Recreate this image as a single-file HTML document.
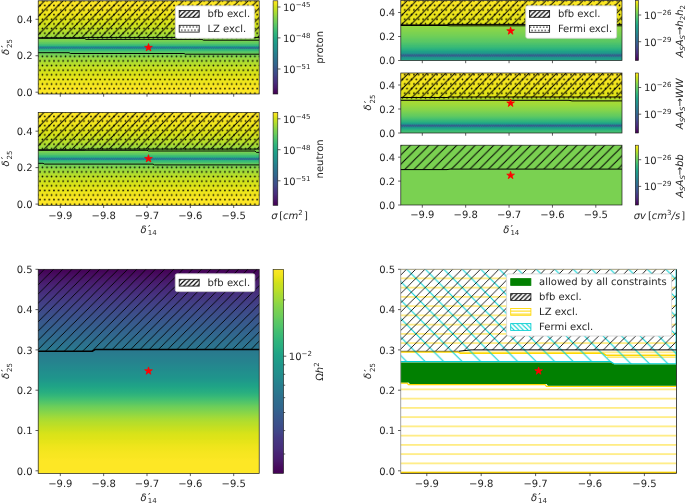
<!DOCTYPE html>
<html lang="en">
<head>
<meta charset="utf-8">
<title>Parameter scan: direct detection, indirect detection, relic density and combined constraints</title>
<style>
html,body{margin:0;padding:0;background:#ffffff;}
body{width:685px;height:503px;overflow:hidden;}
svg{display:block;font-family:'DejaVu Sans', 'Liberation Sans', sans-serif;will-change:transform;opacity:0.999;text-rendering:geometricPrecision;}
</style>
</head>
<body>
<svg width="685" height="503" viewBox="0 0 685 503">
<defs>
<pattern id="Lbfb" patternUnits="userSpaceOnUse" x="1.9" y="0" width="4.6" height="4.6"><path d="M-1 5.6 L5.6 -1 M-1 1 L1 -1 M3.6 5.6 L5.6 3.6" stroke="#000" stroke-width="1.15" fill="none"/></pattern>
<pattern id="Ldots" patternUnits="userSpaceOnUse" x="0.95" y="3.25" width="3.3" height="6.6"><circle cx="1.65" cy="1.65" r="0.7"/><circle cx="3.3" cy="4.95" r="0.7"/><circle cx="0" cy="4.95" r="0.7"/></pattern>
<pattern id="Llz" patternUnits="userSpaceOnUse" x="0" y="1.1" width="20" height="3"><path d="M-1 1.5 H21" stroke="#ffd700" stroke-width="1"/></pattern>
<pattern id="Lfermi" patternUnits="userSpaceOnUse" x="1.5" y="0" width="4.6" height="4.6"><path d="M-1 -1 L5.6 5.6 M3.6 -1 L5.6 1 M-1 3.6 L1 5.6" stroke="#00ced1" stroke-width="1.1" fill="none"/></pattern>
<pattern id="hbfbA" patternUnits="userSpaceOnUse" x="8.4" y="0" width="9.25" height="9.25"><path d="M-1 10.25 L10.25 -1 M-1 1 L1 -1 M8.25 10.25 L10.25 8.25" stroke="#000" stroke-width="1" fill="none"/></pattern>
<pattern id="hdotA" patternUnits="userSpaceOnUse" x="40.09" y="7.74" width="4.62" height="9.25"><circle cx="2.31" cy="2.31" r="0.82"/><circle cx="4.62" cy="6.94" r="0.82"/><circle cx="0" cy="6.94" r="0.82"/></pattern>
<linearGradient id="cb" x1="0" y1="0" x2="0" y2="1"><stop offset="0" stop-color="#fde725"/><stop offset="0.03" stop-color="#efe51c"/><stop offset="0.05" stop-color="#dfe318"/><stop offset="0.07" stop-color="#cde11d"/><stop offset="0.1" stop-color="#bddf26"/><stop offset="0.12" stop-color="#addc30"/><stop offset="0.15" stop-color="#9bd93c"/><stop offset="0.17" stop-color="#8bd646"/><stop offset="0.2" stop-color="#7ad151"/><stop offset="0.23" stop-color="#6ccd5a"/><stop offset="0.25" stop-color="#5ec962"/><stop offset="0.28" stop-color="#50c46a"/><stop offset="0.3" stop-color="#44bf70"/><stop offset="0.33" stop-color="#38b977"/><stop offset="0.35" stop-color="#2fb47c"/><stop offset="0.38" stop-color="#28ae80"/><stop offset="0.4" stop-color="#22a884"/><stop offset="0.42" stop-color="#1fa287"/><stop offset="0.45" stop-color="#1e9c89"/><stop offset="0.47" stop-color="#1f968b"/><stop offset="0.5" stop-color="#21918c"/><stop offset="0.53" stop-color="#238a8d"/><stop offset="0.55" stop-color="#25848e"/><stop offset="0.57" stop-color="#277e8e"/><stop offset="0.6" stop-color="#2a788e"/><stop offset="0.62" stop-color="#2c728e"/><stop offset="0.65" stop-color="#2f6c8e"/><stop offset="0.68" stop-color="#31668e"/><stop offset="0.7" stop-color="#355f8d"/><stop offset="0.72" stop-color="#38598c"/><stop offset="0.75" stop-color="#3b528b"/><stop offset="0.78" stop-color="#3e4a89"/><stop offset="0.8" stop-color="#414487"/><stop offset="0.82" stop-color="#443b84"/><stop offset="0.85" stop-color="#463480"/><stop offset="0.88" stop-color="#472d7b"/><stop offset="0.9" stop-color="#482475"/><stop offset="0.93" stop-color="#481c6e"/><stop offset="0.95" stop-color="#471365"/><stop offset="0.97" stop-color="#460a5d"/><stop offset="1" stop-color="#440154"/></linearGradient>
<linearGradient id="gP1" gradientUnits="userSpaceOnUse" x1="0" y1="0.8" x2="0" y2="94"><stop offset="0" stop-color="#fde725"/><stop offset="0.01" stop-color="#fde725"/><stop offset="0.01" stop-color="#fde725"/><stop offset="0.02" stop-color="#fde725"/><stop offset="0.03" stop-color="#fde725"/><stop offset="0.04" stop-color="#fde725"/><stop offset="0.04" stop-color="#fde725"/><stop offset="0.05" stop-color="#fde725"/><stop offset="0.06" stop-color="#fde725"/><stop offset="0.06" stop-color="#fbe723"/><stop offset="0.07" stop-color="#fbe723"/><stop offset="0.08" stop-color="#f8e621"/><stop offset="0.09" stop-color="#f8e621"/><stop offset="0.09" stop-color="#f6e620"/><stop offset="0.1" stop-color="#f6e620"/><stop offset="0.11" stop-color="#f4e61e"/><stop offset="0.11" stop-color="#f4e61e"/><stop offset="0.12" stop-color="#f1e51d"/><stop offset="0.13" stop-color="#f1e51d"/><stop offset="0.14" stop-color="#efe51c"/><stop offset="0.14" stop-color="#ece51b"/><stop offset="0.15" stop-color="#ece51b"/><stop offset="0.16" stop-color="#eae51a"/><stop offset="0.16" stop-color="#eae51a"/><stop offset="0.17" stop-color="#e7e419"/><stop offset="0.18" stop-color="#e5e419"/><stop offset="0.19" stop-color="#e5e419"/><stop offset="0.19" stop-color="#e2e418"/><stop offset="0.2" stop-color="#dfe318"/><stop offset="0.21" stop-color="#dfe318"/><stop offset="0.21" stop-color="#dde318"/><stop offset="0.22" stop-color="#dae319"/><stop offset="0.23" stop-color="#d8e219"/><stop offset="0.24" stop-color="#d8e219"/><stop offset="0.24" stop-color="#d5e21a"/><stop offset="0.25" stop-color="#d2e21b"/><stop offset="0.26" stop-color="#d0e11c"/><stop offset="0.26" stop-color="#cde11d"/><stop offset="0.27" stop-color="#cde11d"/><stop offset="0.28" stop-color="#cae11f"/><stop offset="0.29" stop-color="#c8e020"/><stop offset="0.29" stop-color="#c5e021"/><stop offset="0.3" stop-color="#c2df23"/><stop offset="0.31" stop-color="#c0df25"/><stop offset="0.31" stop-color="#bddf26"/><stop offset="0.32" stop-color="#bade28"/><stop offset="0.33" stop-color="#b5de2b"/><stop offset="0.34" stop-color="#b2dd2d"/><stop offset="0.34" stop-color="#b0dd2f"/><stop offset="0.35" stop-color="#addc30"/><stop offset="0.36" stop-color="#a8db34"/><stop offset="0.36" stop-color="#a5db36"/><stop offset="0.37" stop-color="#a0da39"/><stop offset="0.38" stop-color="#9dd93b"/><stop offset="0.39" stop-color="#98d83e"/><stop offset="0.39" stop-color="#93d741"/><stop offset="0.4" stop-color="#8ed645"/><stop offset="0.41" stop-color="#89d548"/><stop offset="0.41" stop-color="#84d44b"/><stop offset="0.42" stop-color="#7cd250"/><stop offset="0.43" stop-color="#77d153"/><stop offset="0.44" stop-color="#70cf57"/><stop offset="0.44" stop-color="#69cd5b"/><stop offset="0.45" stop-color="#60ca60"/><stop offset="0.46" stop-color="#58c765"/><stop offset="0.46" stop-color="#4ec36b"/><stop offset="0.47" stop-color="#44bf70"/><stop offset="0.48" stop-color="#37b878"/><stop offset="0.49" stop-color="#2ab07f"/><stop offset="0.49" stop-color="#20a386"/><stop offset="0.5" stop-color="#1f958b"/><stop offset="0.51" stop-color="#1f958b"/><stop offset="0.51" stop-color="#1fa088"/><stop offset="0.52" stop-color="#28ae80"/><stop offset="0.53" stop-color="#35b779"/><stop offset="0.54" stop-color="#40bd72"/><stop offset="0.54" stop-color="#4cc26c"/><stop offset="0.55" stop-color="#56c667"/><stop offset="0.56" stop-color="#5ec962"/><stop offset="0.56" stop-color="#67cc5c"/><stop offset="0.57" stop-color="#6ece58"/><stop offset="0.58" stop-color="#75d054"/><stop offset="0.59" stop-color="#7cd250"/><stop offset="0.59" stop-color="#81d34d"/><stop offset="0.6" stop-color="#89d548"/><stop offset="0.61" stop-color="#8ed645"/><stop offset="0.61" stop-color="#93d741"/><stop offset="0.62" stop-color="#98d83e"/><stop offset="0.63" stop-color="#9bd93c"/><stop offset="0.64" stop-color="#a0da39"/><stop offset="0.64" stop-color="#a2da37"/><stop offset="0.65" stop-color="#a8db34"/><stop offset="0.66" stop-color="#aadc32"/><stop offset="0.66" stop-color="#b0dd2f"/><stop offset="0.67" stop-color="#b2dd2d"/><stop offset="0.68" stop-color="#b5de2b"/><stop offset="0.69" stop-color="#b8de29"/><stop offset="0.69" stop-color="#bade28"/><stop offset="0.7" stop-color="#c0df25"/><stop offset="0.71" stop-color="#c2df23"/><stop offset="0.71" stop-color="#c5e021"/><stop offset="0.72" stop-color="#c8e020"/><stop offset="0.73" stop-color="#c8e020"/><stop offset="0.74" stop-color="#cae11f"/><stop offset="0.74" stop-color="#cde11d"/><stop offset="0.75" stop-color="#d0e11c"/><stop offset="0.76" stop-color="#d2e21b"/><stop offset="0.76" stop-color="#d5e21a"/><stop offset="0.77" stop-color="#d8e219"/><stop offset="0.78" stop-color="#d8e219"/><stop offset="0.79" stop-color="#dae319"/><stop offset="0.79" stop-color="#dde318"/><stop offset="0.8" stop-color="#dfe318"/><stop offset="0.81" stop-color="#dfe318"/><stop offset="0.81" stop-color="#e2e418"/><stop offset="0.82" stop-color="#e5e419"/><stop offset="0.83" stop-color="#e5e419"/><stop offset="0.84" stop-color="#e7e419"/><stop offset="0.84" stop-color="#e7e419"/><stop offset="0.85" stop-color="#eae51a"/><stop offset="0.86" stop-color="#ece51b"/><stop offset="0.86" stop-color="#ece51b"/><stop offset="0.87" stop-color="#efe51c"/><stop offset="0.88" stop-color="#efe51c"/><stop offset="0.89" stop-color="#f1e51d"/><stop offset="0.89" stop-color="#f1e51d"/><stop offset="0.9" stop-color="#f4e61e"/><stop offset="0.91" stop-color="#f6e620"/><stop offset="0.91" stop-color="#f6e620"/><stop offset="0.92" stop-color="#f8e621"/><stop offset="0.93" stop-color="#f8e621"/><stop offset="0.94" stop-color="#fbe723"/><stop offset="0.94" stop-color="#fbe723"/><stop offset="0.95" stop-color="#fbe723"/><stop offset="0.96" stop-color="#fde725"/><stop offset="0.96" stop-color="#fde725"/><stop offset="0.97" stop-color="#fde725"/><stop offset="0.98" stop-color="#fde725"/><stop offset="0.99" stop-color="#fde725"/><stop offset="0.99" stop-color="#fde725"/><stop offset="1" stop-color="#fde725"/></linearGradient>
<linearGradient id="gP2" gradientUnits="userSpaceOnUse" x1="0" y1="112.4" x2="0" y2="205.3"><stop offset="0" stop-color="#fde725"/><stop offset="0.01" stop-color="#fde725"/><stop offset="0.01" stop-color="#fde725"/><stop offset="0.02" stop-color="#fde725"/><stop offset="0.03" stop-color="#fde725"/><stop offset="0.04" stop-color="#fde725"/><stop offset="0.04" stop-color="#fde725"/><stop offset="0.05" stop-color="#fde725"/><stop offset="0.06" stop-color="#fbe723"/><stop offset="0.06" stop-color="#fbe723"/><stop offset="0.07" stop-color="#f8e621"/><stop offset="0.08" stop-color="#f8e621"/><stop offset="0.09" stop-color="#f6e620"/><stop offset="0.09" stop-color="#f6e620"/><stop offset="0.1" stop-color="#f4e61e"/><stop offset="0.11" stop-color="#f4e61e"/><stop offset="0.11" stop-color="#f1e51d"/><stop offset="0.12" stop-color="#f1e51d"/><stop offset="0.13" stop-color="#efe51c"/><stop offset="0.14" stop-color="#ece51b"/><stop offset="0.14" stop-color="#ece51b"/><stop offset="0.15" stop-color="#eae51a"/><stop offset="0.16" stop-color="#eae51a"/><stop offset="0.16" stop-color="#e7e419"/><stop offset="0.17" stop-color="#e5e419"/><stop offset="0.18" stop-color="#e5e419"/><stop offset="0.19" stop-color="#e2e418"/><stop offset="0.19" stop-color="#dfe318"/><stop offset="0.2" stop-color="#dfe318"/><stop offset="0.21" stop-color="#dde318"/><stop offset="0.21" stop-color="#dae319"/><stop offset="0.22" stop-color="#dae319"/><stop offset="0.23" stop-color="#d8e219"/><stop offset="0.24" stop-color="#d5e21a"/><stop offset="0.24" stop-color="#d2e21b"/><stop offset="0.25" stop-color="#d0e11c"/><stop offset="0.26" stop-color="#d0e11c"/><stop offset="0.26" stop-color="#cde11d"/><stop offset="0.27" stop-color="#cae11f"/><stop offset="0.28" stop-color="#c8e020"/><stop offset="0.29" stop-color="#c5e021"/><stop offset="0.29" stop-color="#c2df23"/><stop offset="0.3" stop-color="#c0df25"/><stop offset="0.31" stop-color="#bddf26"/><stop offset="0.31" stop-color="#bade28"/><stop offset="0.32" stop-color="#b8de29"/><stop offset="0.33" stop-color="#b2dd2d"/><stop offset="0.34" stop-color="#b0dd2f"/><stop offset="0.34" stop-color="#addc30"/><stop offset="0.35" stop-color="#aadc32"/><stop offset="0.36" stop-color="#a5db36"/><stop offset="0.36" stop-color="#a2da37"/><stop offset="0.37" stop-color="#9dd93b"/><stop offset="0.38" stop-color="#98d83e"/><stop offset="0.39" stop-color="#95d840"/><stop offset="0.39" stop-color="#90d743"/><stop offset="0.4" stop-color="#8bd646"/><stop offset="0.41" stop-color="#86d549"/><stop offset="0.41" stop-color="#7fd34e"/><stop offset="0.42" stop-color="#7ad151"/><stop offset="0.43" stop-color="#73d056"/><stop offset="0.44" stop-color="#6ccd5a"/><stop offset="0.44" stop-color="#63cb5f"/><stop offset="0.45" stop-color="#5ac864"/><stop offset="0.46" stop-color="#52c569"/><stop offset="0.46" stop-color="#46c06f"/><stop offset="0.47" stop-color="#3bbb75"/><stop offset="0.48" stop-color="#2eb37c"/><stop offset="0.49" stop-color="#22a884"/><stop offset="0.49" stop-color="#1f958b"/><stop offset="0.5" stop-color="#1f958b"/><stop offset="0.51" stop-color="#1f988b"/><stop offset="0.51" stop-color="#24aa83"/><stop offset="0.52" stop-color="#31b57b"/><stop offset="0.53" stop-color="#3dbc74"/><stop offset="0.54" stop-color="#48c16e"/><stop offset="0.54" stop-color="#54c568"/><stop offset="0.55" stop-color="#5cc863"/><stop offset="0.56" stop-color="#65cb5e"/><stop offset="0.56" stop-color="#6ccd5a"/><stop offset="0.57" stop-color="#73d056"/><stop offset="0.58" stop-color="#7ad151"/><stop offset="0.59" stop-color="#81d34d"/><stop offset="0.59" stop-color="#86d549"/><stop offset="0.6" stop-color="#8bd646"/><stop offset="0.61" stop-color="#90d743"/><stop offset="0.61" stop-color="#95d840"/><stop offset="0.62" stop-color="#9bd93c"/><stop offset="0.63" stop-color="#9dd93b"/><stop offset="0.64" stop-color="#a2da37"/><stop offset="0.64" stop-color="#a5db36"/><stop offset="0.65" stop-color="#aadc32"/><stop offset="0.66" stop-color="#addc30"/><stop offset="0.66" stop-color="#b0dd2f"/><stop offset="0.67" stop-color="#b5de2b"/><stop offset="0.68" stop-color="#b8de29"/><stop offset="0.69" stop-color="#bade28"/><stop offset="0.69" stop-color="#bddf26"/><stop offset="0.7" stop-color="#c0df25"/><stop offset="0.71" stop-color="#c2df23"/><stop offset="0.71" stop-color="#c5e021"/><stop offset="0.72" stop-color="#c8e020"/><stop offset="0.73" stop-color="#cae11f"/><stop offset="0.74" stop-color="#cde11d"/><stop offset="0.74" stop-color="#d0e11c"/><stop offset="0.75" stop-color="#d2e21b"/><stop offset="0.76" stop-color="#d2e21b"/><stop offset="0.76" stop-color="#d5e21a"/><stop offset="0.77" stop-color="#d8e219"/><stop offset="0.78" stop-color="#dae319"/><stop offset="0.79" stop-color="#dae319"/><stop offset="0.79" stop-color="#dde318"/><stop offset="0.8" stop-color="#dfe318"/><stop offset="0.81" stop-color="#e2e418"/><stop offset="0.81" stop-color="#e2e418"/><stop offset="0.82" stop-color="#e5e419"/><stop offset="0.83" stop-color="#e7e419"/><stop offset="0.84" stop-color="#e7e419"/><stop offset="0.84" stop-color="#eae51a"/><stop offset="0.85" stop-color="#eae51a"/><stop offset="0.86" stop-color="#ece51b"/><stop offset="0.86" stop-color="#efe51c"/><stop offset="0.87" stop-color="#efe51c"/><stop offset="0.88" stop-color="#f1e51d"/><stop offset="0.89" stop-color="#f1e51d"/><stop offset="0.89" stop-color="#f4e61e"/><stop offset="0.9" stop-color="#f4e61e"/><stop offset="0.91" stop-color="#f6e620"/><stop offset="0.91" stop-color="#f6e620"/><stop offset="0.92" stop-color="#f8e621"/><stop offset="0.93" stop-color="#f8e621"/><stop offset="0.94" stop-color="#fbe723"/><stop offset="0.94" stop-color="#fbe723"/><stop offset="0.95" stop-color="#fde725"/><stop offset="0.96" stop-color="#fde725"/><stop offset="0.96" stop-color="#fde725"/><stop offset="0.97" stop-color="#fde725"/><stop offset="0.98" stop-color="#fde725"/><stop offset="0.99" stop-color="#fde725"/><stop offset="0.99" stop-color="#fde725"/><stop offset="1" stop-color="#fde725"/></linearGradient>
<pattern id="hbfbB" patternUnits="userSpaceOnUse" x="0.8" y="0" width="9.25" height="9.25"><path d="M-1 10.25 L10.25 -1 M-1 1 L1 -1 M8.25 10.25 L10.25 8.25" stroke="#000" stroke-width="1" fill="none"/></pattern>
<pattern id="hdotB" patternUnits="userSpaceOnUse" x="404.69" y="3.03" width="4.62" height="9.25"><circle cx="2.31" cy="2.31" r="0.82"/><circle cx="4.62" cy="6.94" r="0.82"/><circle cx="0" cy="6.94" r="0.82"/></pattern>
<linearGradient id="gR1" gradientUnits="userSpaceOnUse" x1="0" y1="0.5" x2="0" y2="60.5"><stop offset="0" stop-color="#fde725"/><stop offset="0.01" stop-color="#fde725"/><stop offset="0.01" stop-color="#fde725"/><stop offset="0.02" stop-color="#fde725"/><stop offset="0.03" stop-color="#fde725"/><stop offset="0.03" stop-color="#fbe723"/><stop offset="0.04" stop-color="#fbe723"/><stop offset="0.05" stop-color="#fbe723"/><stop offset="0.05" stop-color="#fbe723"/><stop offset="0.06" stop-color="#fbe723"/><stop offset="0.07" stop-color="#f8e621"/><stop offset="0.07" stop-color="#f8e621"/><stop offset="0.08" stop-color="#f8e621"/><stop offset="0.09" stop-color="#f8e621"/><stop offset="0.09" stop-color="#f8e621"/><stop offset="0.1" stop-color="#f6e620"/><stop offset="0.11" stop-color="#f6e620"/><stop offset="0.11" stop-color="#f6e620"/><stop offset="0.12" stop-color="#f6e620"/><stop offset="0.13" stop-color="#f6e620"/><stop offset="0.13" stop-color="#f4e61e"/><stop offset="0.14" stop-color="#f4e61e"/><stop offset="0.15" stop-color="#f4e61e"/><stop offset="0.15" stop-color="#f4e61e"/><stop offset="0.16" stop-color="#f4e61e"/><stop offset="0.17" stop-color="#f1e51d"/><stop offset="0.17" stop-color="#f1e51d"/><stop offset="0.18" stop-color="#f1e51d"/><stop offset="0.19" stop-color="#f1e51d"/><stop offset="0.19" stop-color="#f1e51d"/><stop offset="0.2" stop-color="#efe51c"/><stop offset="0.21" stop-color="#efe51c"/><stop offset="0.21" stop-color="#efe51c"/><stop offset="0.22" stop-color="#efe51c"/><stop offset="0.23" stop-color="#efe51c"/><stop offset="0.23" stop-color="#ece51b"/><stop offset="0.24" stop-color="#ece51b"/><stop offset="0.25" stop-color="#ece51b"/><stop offset="0.25" stop-color="#ece51b"/><stop offset="0.26" stop-color="#ece51b"/><stop offset="0.27" stop-color="#eae51a"/><stop offset="0.27" stop-color="#eae51a"/><stop offset="0.28" stop-color="#eae51a"/><stop offset="0.29" stop-color="#eae51a"/><stop offset="0.29" stop-color="#e7e419"/><stop offset="0.3" stop-color="#e7e419"/><stop offset="0.31" stop-color="#e7e419"/><stop offset="0.31" stop-color="#e7e419"/><stop offset="0.32" stop-color="#e7e419"/><stop offset="0.33" stop-color="#e5e419"/><stop offset="0.33" stop-color="#e5e419"/><stop offset="0.34" stop-color="#e5e419"/><stop offset="0.35" stop-color="#e5e419"/><stop offset="0.35" stop-color="#e5e419"/><stop offset="0.36" stop-color="#e2e418"/><stop offset="0.37" stop-color="#e2e418"/><stop offset="0.37" stop-color="#e2e418"/><stop offset="0.38" stop-color="#e2e418"/><stop offset="0.39" stop-color="#e2e418"/><stop offset="0.39" stop-color="#dfe318"/><stop offset="0.4" stop-color="#dfe318"/><stop offset="0.41" stop-color="#dfe318"/><stop offset="0.41" stop-color="#dfe318"/><stop offset="0.42" stop-color="#93d741"/><stop offset="0.43" stop-color="#93d741"/><stop offset="0.43" stop-color="#90d743"/><stop offset="0.44" stop-color="#90d743"/><stop offset="0.45" stop-color="#8ed645"/><stop offset="0.45" stop-color="#8ed645"/><stop offset="0.46" stop-color="#8bd646"/><stop offset="0.47" stop-color="#8bd646"/><stop offset="0.47" stop-color="#89d548"/><stop offset="0.48" stop-color="#89d548"/><stop offset="0.49" stop-color="#86d549"/><stop offset="0.49" stop-color="#86d549"/><stop offset="0.5" stop-color="#84d44b"/><stop offset="0.51" stop-color="#84d44b"/><stop offset="0.51" stop-color="#81d34d"/><stop offset="0.52" stop-color="#81d34d"/><stop offset="0.53" stop-color="#7fd34e"/><stop offset="0.53" stop-color="#7cd250"/><stop offset="0.54" stop-color="#7cd250"/><stop offset="0.55" stop-color="#7ad151"/><stop offset="0.55" stop-color="#7ad151"/><stop offset="0.56" stop-color="#77d153"/><stop offset="0.57" stop-color="#75d054"/><stop offset="0.57" stop-color="#75d054"/><stop offset="0.58" stop-color="#73d056"/><stop offset="0.59" stop-color="#70cf57"/><stop offset="0.59" stop-color="#70cf57"/><stop offset="0.6" stop-color="#6ece58"/><stop offset="0.61" stop-color="#6ccd5a"/><stop offset="0.61" stop-color="#6ccd5a"/><stop offset="0.62" stop-color="#69cd5b"/><stop offset="0.63" stop-color="#67cc5c"/><stop offset="0.63" stop-color="#65cb5e"/><stop offset="0.64" stop-color="#65cb5e"/><stop offset="0.65" stop-color="#63cb5f"/><stop offset="0.65" stop-color="#60ca60"/><stop offset="0.66" stop-color="#5ec962"/><stop offset="0.67" stop-color="#5cc863"/><stop offset="0.67" stop-color="#5ac864"/><stop offset="0.68" stop-color="#5ac864"/><stop offset="0.69" stop-color="#58c765"/><stop offset="0.69" stop-color="#56c667"/><stop offset="0.7" stop-color="#54c568"/><stop offset="0.71" stop-color="#52c569"/><stop offset="0.71" stop-color="#4ec36b"/><stop offset="0.72" stop-color="#4cc26c"/><stop offset="0.73" stop-color="#4ac16d"/><stop offset="0.73" stop-color="#48c16e"/><stop offset="0.74" stop-color="#46c06f"/><stop offset="0.75" stop-color="#44bf70"/><stop offset="0.75" stop-color="#40bd72"/><stop offset="0.76" stop-color="#3fbc73"/><stop offset="0.77" stop-color="#3bbb75"/><stop offset="0.77" stop-color="#3aba76"/><stop offset="0.78" stop-color="#37b878"/><stop offset="0.79" stop-color="#35b779"/><stop offset="0.79" stop-color="#32b67a"/><stop offset="0.8" stop-color="#2fb47c"/><stop offset="0.81" stop-color="#2db27d"/><stop offset="0.81" stop-color="#2ab07f"/><stop offset="0.82" stop-color="#28ae80"/><stop offset="0.83" stop-color="#26ad81"/><stop offset="0.83" stop-color="#24aa83"/><stop offset="0.84" stop-color="#22a785"/><stop offset="0.85" stop-color="#20a486"/><stop offset="0.85" stop-color="#1fa187"/><stop offset="0.86" stop-color="#1f9e89"/><stop offset="0.87" stop-color="#1f9a8a"/><stop offset="0.87" stop-color="#1f958b"/><stop offset="0.88" stop-color="#21918c"/><stop offset="0.89" stop-color="#238a8d"/><stop offset="0.89" stop-color="#26828e"/><stop offset="0.9" stop-color="#287d8e"/><stop offset="0.91" stop-color="#287d8e"/><stop offset="0.91" stop-color="#287d8e"/><stop offset="0.92" stop-color="#287d8e"/><stop offset="0.93" stop-color="#287d8e"/><stop offset="0.93" stop-color="#287d8e"/><stop offset="0.94" stop-color="#26828e"/><stop offset="0.95" stop-color="#238a8d"/><stop offset="0.95" stop-color="#21918c"/><stop offset="0.96" stop-color="#1f958b"/><stop offset="0.97" stop-color="#1f9a8a"/><stop offset="0.97" stop-color="#1f9e89"/><stop offset="0.98" stop-color="#1fa187"/><stop offset="0.99" stop-color="#20a486"/><stop offset="0.99" stop-color="#22a785"/><stop offset="1" stop-color="#24aa83"/></linearGradient>
<linearGradient id="gR2" gradientUnits="userSpaceOnUse" x1="0" y1="73" x2="0" y2="133"><stop offset="0" stop-color="#fde725"/><stop offset="0.01" stop-color="#fde725"/><stop offset="0.01" stop-color="#fde725"/><stop offset="0.02" stop-color="#fde725"/><stop offset="0.03" stop-color="#fde725"/><stop offset="0.03" stop-color="#fbe723"/><stop offset="0.04" stop-color="#fbe723"/><stop offset="0.05" stop-color="#fbe723"/><stop offset="0.05" stop-color="#fbe723"/><stop offset="0.06" stop-color="#fbe723"/><stop offset="0.07" stop-color="#f8e621"/><stop offset="0.07" stop-color="#f8e621"/><stop offset="0.08" stop-color="#f8e621"/><stop offset="0.09" stop-color="#f8e621"/><stop offset="0.09" stop-color="#f8e621"/><stop offset="0.1" stop-color="#f6e620"/><stop offset="0.11" stop-color="#f6e620"/><stop offset="0.11" stop-color="#f6e620"/><stop offset="0.12" stop-color="#f6e620"/><stop offset="0.13" stop-color="#f6e620"/><stop offset="0.13" stop-color="#f4e61e"/><stop offset="0.14" stop-color="#f4e61e"/><stop offset="0.15" stop-color="#f4e61e"/><stop offset="0.15" stop-color="#f4e61e"/><stop offset="0.16" stop-color="#f4e61e"/><stop offset="0.17" stop-color="#f1e51d"/><stop offset="0.17" stop-color="#f1e51d"/><stop offset="0.18" stop-color="#f1e51d"/><stop offset="0.19" stop-color="#f1e51d"/><stop offset="0.19" stop-color="#f1e51d"/><stop offset="0.2" stop-color="#efe51c"/><stop offset="0.21" stop-color="#efe51c"/><stop offset="0.21" stop-color="#efe51c"/><stop offset="0.22" stop-color="#efe51c"/><stop offset="0.23" stop-color="#efe51c"/><stop offset="0.23" stop-color="#ece51b"/><stop offset="0.24" stop-color="#ece51b"/><stop offset="0.25" stop-color="#ece51b"/><stop offset="0.25" stop-color="#ece51b"/><stop offset="0.26" stop-color="#ece51b"/><stop offset="0.27" stop-color="#eae51a"/><stop offset="0.27" stop-color="#eae51a"/><stop offset="0.28" stop-color="#eae51a"/><stop offset="0.29" stop-color="#eae51a"/><stop offset="0.29" stop-color="#e7e419"/><stop offset="0.3" stop-color="#e7e419"/><stop offset="0.31" stop-color="#e7e419"/><stop offset="0.31" stop-color="#e7e419"/><stop offset="0.32" stop-color="#e7e419"/><stop offset="0.33" stop-color="#e5e419"/><stop offset="0.33" stop-color="#e5e419"/><stop offset="0.34" stop-color="#e5e419"/><stop offset="0.35" stop-color="#e5e419"/><stop offset="0.35" stop-color="#e5e419"/><stop offset="0.36" stop-color="#e2e418"/><stop offset="0.37" stop-color="#e2e418"/><stop offset="0.37" stop-color="#e2e418"/><stop offset="0.38" stop-color="#e2e418"/><stop offset="0.39" stop-color="#e2e418"/><stop offset="0.39" stop-color="#dfe318"/><stop offset="0.4" stop-color="#dfe318"/><stop offset="0.41" stop-color="#dfe318"/><stop offset="0.41" stop-color="#dfe318"/><stop offset="0.42" stop-color="#b5de2b"/><stop offset="0.43" stop-color="#b2dd2d"/><stop offset="0.43" stop-color="#b2dd2d"/><stop offset="0.44" stop-color="#b0dd2f"/><stop offset="0.45" stop-color="#b0dd2f"/><stop offset="0.45" stop-color="#addc30"/><stop offset="0.46" stop-color="#addc30"/><stop offset="0.47" stop-color="#aadc32"/><stop offset="0.47" stop-color="#aadc32"/><stop offset="0.48" stop-color="#a8db34"/><stop offset="0.49" stop-color="#a8db34"/><stop offset="0.49" stop-color="#a5db36"/><stop offset="0.5" stop-color="#a2da37"/><stop offset="0.51" stop-color="#a2da37"/><stop offset="0.51" stop-color="#a0da39"/><stop offset="0.52" stop-color="#a0da39"/><stop offset="0.53" stop-color="#9dd93b"/><stop offset="0.53" stop-color="#9bd93c"/><stop offset="0.54" stop-color="#9bd93c"/><stop offset="0.55" stop-color="#98d83e"/><stop offset="0.55" stop-color="#95d840"/><stop offset="0.56" stop-color="#95d840"/><stop offset="0.57" stop-color="#93d741"/><stop offset="0.57" stop-color="#90d743"/><stop offset="0.58" stop-color="#90d743"/><stop offset="0.59" stop-color="#8ed645"/><stop offset="0.59" stop-color="#8bd646"/><stop offset="0.6" stop-color="#89d548"/><stop offset="0.61" stop-color="#86d549"/><stop offset="0.61" stop-color="#86d549"/><stop offset="0.62" stop-color="#84d44b"/><stop offset="0.63" stop-color="#81d34d"/><stop offset="0.63" stop-color="#7fd34e"/><stop offset="0.64" stop-color="#7cd250"/><stop offset="0.65" stop-color="#7ad151"/><stop offset="0.65" stop-color="#77d153"/><stop offset="0.66" stop-color="#75d054"/><stop offset="0.67" stop-color="#73d056"/><stop offset="0.67" stop-color="#70cf57"/><stop offset="0.68" stop-color="#6ece58"/><stop offset="0.69" stop-color="#6ccd5a"/><stop offset="0.69" stop-color="#69cd5b"/><stop offset="0.7" stop-color="#67cc5c"/><stop offset="0.71" stop-color="#63cb5f"/><stop offset="0.71" stop-color="#60ca60"/><stop offset="0.72" stop-color="#5ec962"/><stop offset="0.73" stop-color="#5ac864"/><stop offset="0.73" stop-color="#58c765"/><stop offset="0.74" stop-color="#54c568"/><stop offset="0.75" stop-color="#52c569"/><stop offset="0.75" stop-color="#4ec36b"/><stop offset="0.76" stop-color="#4ac16d"/><stop offset="0.77" stop-color="#46c06f"/><stop offset="0.77" stop-color="#42be71"/><stop offset="0.78" stop-color="#3fbc73"/><stop offset="0.79" stop-color="#3bbb75"/><stop offset="0.79" stop-color="#37b878"/><stop offset="0.8" stop-color="#32b67a"/><stop offset="0.81" stop-color="#2eb37c"/><stop offset="0.81" stop-color="#2ab07f"/><stop offset="0.82" stop-color="#27ad81"/><stop offset="0.83" stop-color="#24aa83"/><stop offset="0.83" stop-color="#21a585"/><stop offset="0.84" stop-color="#1fa188"/><stop offset="0.85" stop-color="#1f9a8a"/><stop offset="0.85" stop-color="#20938c"/><stop offset="0.86" stop-color="#23898e"/><stop offset="0.87" stop-color="#287d8e"/><stop offset="0.87" stop-color="#287d8e"/><stop offset="0.88" stop-color="#287d8e"/><stop offset="0.89" stop-color="#287d8e"/><stop offset="0.89" stop-color="#25838e"/><stop offset="0.9" stop-color="#218f8d"/><stop offset="0.91" stop-color="#1f978b"/><stop offset="0.91" stop-color="#1f9e89"/><stop offset="0.92" stop-color="#20a386"/><stop offset="0.93" stop-color="#22a785"/><stop offset="0.93" stop-color="#25ac82"/><stop offset="0.94" stop-color="#28ae80"/><stop offset="0.95" stop-color="#2db27d"/><stop offset="0.95" stop-color="#31b57b"/><stop offset="0.96" stop-color="#35b779"/><stop offset="0.97" stop-color="#38b977"/><stop offset="0.97" stop-color="#3dbc74"/><stop offset="0.98" stop-color="#40bd72"/><stop offset="0.99" stop-color="#44bf70"/><stop offset="0.99" stop-color="#48c16e"/><stop offset="1" stop-color="#4cc26c"/></linearGradient>
<linearGradient id="gR3" gradientUnits="userSpaceOnUse" x1="0" y1="145.2" x2="0" y2="205"><stop offset="0" stop-color="#7ad151"/><stop offset="0.5" stop-color="#7ad151"/><stop offset="1" stop-color="#7ad151"/></linearGradient>
<linearGradient id="gBL" gradientUnits="userSpaceOnUse" x1="0" y1="269.3" x2="0" y2="473.4"><stop offset="0" stop-color="#440154"/><stop offset="0.01" stop-color="#450559"/><stop offset="0.02" stop-color="#460a5d"/><stop offset="0.03" stop-color="#470e61"/><stop offset="0.04" stop-color="#471365"/><stop offset="0.05" stop-color="#481769"/><stop offset="0.06" stop-color="#481b6d"/><stop offset="0.07" stop-color="#481f70"/><stop offset="0.08" stop-color="#482374"/><stop offset="0.09" stop-color="#482677"/><stop offset="0.1" stop-color="#472a7a"/><stop offset="0.11" stop-color="#472d7b"/><stop offset="0.12" stop-color="#46307e"/><stop offset="0.13" stop-color="#463480"/><stop offset="0.14" stop-color="#453781"/><stop offset="0.15" stop-color="#443a83"/><stop offset="0.16" stop-color="#433e85"/><stop offset="0.17" stop-color="#424086"/><stop offset="0.18" stop-color="#414487"/><stop offset="0.19" stop-color="#404688"/><stop offset="0.2" stop-color="#3e4989"/><stop offset="0.21" stop-color="#3e4c8a"/><stop offset="0.22" stop-color="#3c4f8a"/><stop offset="0.23" stop-color="#3b518b"/><stop offset="0.24" stop-color="#3a538b"/><stop offset="0.25" stop-color="#39568c"/><stop offset="0.26" stop-color="#38598c"/><stop offset="0.27" stop-color="#375b8d"/><stop offset="0.28" stop-color="#355e8d"/><stop offset="0.29" stop-color="#34608d"/><stop offset="0.3" stop-color="#33628d"/><stop offset="0.31" stop-color="#32658e"/><stop offset="0.32" stop-color="#31678e"/><stop offset="0.33" stop-color="#306a8e"/><stop offset="0.34" stop-color="#2f6c8e"/><stop offset="0.35" stop-color="#2e6e8e"/><stop offset="0.36" stop-color="#2d718e"/><stop offset="0.37" stop-color="#2c728e"/><stop offset="0.38" stop-color="#2b748e"/><stop offset="0.39" stop-color="#2a778e"/><stop offset="0.4" stop-color="#29798e"/><stop offset="0.41" stop-color="#297b8e"/><stop offset="0.42" stop-color="#287d8e"/><stop offset="0.43" stop-color="#277f8e"/><stop offset="0.44" stop-color="#26818e"/><stop offset="0.45" stop-color="#26828e"/><stop offset="0.46" stop-color="#25848e"/><stop offset="0.47" stop-color="#24878e"/><stop offset="0.48" stop-color="#23898e"/><stop offset="0.49" stop-color="#228b8d"/><stop offset="0.5" stop-color="#218e8d"/><stop offset="0.51" stop-color="#21908d"/><stop offset="0.52" stop-color="#20928c"/><stop offset="0.53" stop-color="#1f948c"/><stop offset="0.54" stop-color="#1f978b"/><stop offset="0.55" stop-color="#1f9a8a"/><stop offset="0.56" stop-color="#1f9f88"/><stop offset="0.57" stop-color="#1fa287"/><stop offset="0.58" stop-color="#21a685"/><stop offset="0.59" stop-color="#24aa83"/><stop offset="0.6" stop-color="#27ad81"/><stop offset="0.61" stop-color="#2db27d"/><stop offset="0.62" stop-color="#34b679"/><stop offset="0.63" stop-color="#3dbc74"/><stop offset="0.64" stop-color="#46c06f"/><stop offset="0.65" stop-color="#52c569"/><stop offset="0.66" stop-color="#5cc863"/><stop offset="0.67" stop-color="#69cd5b"/><stop offset="0.68" stop-color="#73d056"/><stop offset="0.69" stop-color="#7cd250"/><stop offset="0.7" stop-color="#86d549"/><stop offset="0.71" stop-color="#90d743"/><stop offset="0.72" stop-color="#9bd93c"/><stop offset="0.73" stop-color="#a5db36"/><stop offset="0.74" stop-color="#addc30"/><stop offset="0.75" stop-color="#b5de2b"/><stop offset="0.76" stop-color="#bade28"/><stop offset="0.77" stop-color="#c2df23"/><stop offset="0.78" stop-color="#c8e020"/><stop offset="0.79" stop-color="#cde11d"/><stop offset="0.8" stop-color="#d5e21a"/><stop offset="0.81" stop-color="#dae319"/><stop offset="0.82" stop-color="#dde318"/><stop offset="0.83" stop-color="#dfe318"/><stop offset="0.84" stop-color="#e5e419"/><stop offset="0.85" stop-color="#e7e419"/><stop offset="0.86" stop-color="#ece51b"/><stop offset="0.87" stop-color="#efe51c"/><stop offset="0.88" stop-color="#f1e51d"/><stop offset="0.89" stop-color="#f4e61e"/><stop offset="0.9" stop-color="#f6e620"/><stop offset="0.91" stop-color="#f8e621"/><stop offset="0.92" stop-color="#f8e621"/><stop offset="0.93" stop-color="#fbe723"/><stop offset="0.94" stop-color="#fde725"/><stop offset="0.95" stop-color="#fde725"/><stop offset="0.96" stop-color="#fde725"/><stop offset="0.97" stop-color="#fde725"/><stop offset="0.98" stop-color="#fde725"/><stop offset="0.99" stop-color="#fde725"/><stop offset="1" stop-color="#fde725"/></linearGradient>
<pattern id="hbfbC" patternUnits="userSpaceOnUse" x="8.4" y="0" width="9.25" height="9.25"><path d="M-1 10.25 L10.25 -1 M-1 1 L1 -1 M8.25 10.25 L10.25 8.25" stroke="#000" stroke-width="0.9" fill="none"/></pattern>
<pattern id="hlz" patternUnits="userSpaceOnUse" x="0" y="440.27" width="20" height="9.25"><path d="M-1 4.62 H21" stroke="#ffd700" stroke-width="0.9"/></pattern>
<pattern id="hfermi" patternUnits="userSpaceOnUse" x="8.1" y="0" width="18.5" height="18.5"><path d="M-1 -1 L19.5 19.5 M17.5 -1 L19.5 1 M-1 17.5 L1 19.5" stroke="#00ced1" stroke-width="1" fill="none"/></pattern>
<pattern id="hbfbD" patternUnits="userSpaceOnUse" x="0.5" y="0" width="9.25" height="9.25"><path d="M-1 10.25 L10.25 -1 M-1 1 L1 -1 M8.25 10.25 L10.25 8.25" stroke="#000" stroke-width="0.85" fill="none"/></pattern>
</defs>
<rect x="38.2" y="0.8" width="221" height="93.2" fill="url(#gP1)"/>
<path d="M38.7 46.8L39.8 48.8L40.9 46.8L42 48.8L43.1 46.8L44.2 48.8L45.3 46.8L46.4 48.8L47.5 46.8L48.6 48.8L49.7 46.8L50.8 48.8L51.9 46.8L53 48.8L54.1 46.8L55.2 48.8L56.3 46.8L57.4 48.8L58.5 46.8L59.6 48.8L60.7 46.8L61.8 48.8L62.9 46.8L64 48.8L65.1 46.8L66.2 48.8L67.3 46.8L68.4 48.8L69.5 46.8L70.6 48.8L71.7 46.8L72.8 48.8L73.9 46.8L75 48.8L76.1 46.8L77.2 48.8L78.3 46.8L79.4 48.8L80.5 46.8L81.6 48.8L82.7 46.8L83.8 48.8L84.9 46.8L86 48.8L87.1 46.8L88.2 48.8L89.3 46.8L90.4 48.8L91.5 46.8L92.6 48.8L93.7 46.8L94.8 48.8L95.9 46.8L97 48.8L98.1 46.8L99.2 48.8L100.3 46.8L101.4 48.8L102.5 46.8L103.6 48.8L104.7 46.8L105.8 48.8L106.9 46.8L108 48.8L109.1 46.8L110.2 48.8L111.3 46.8L112.4 48.8L113.5 46.8L114.6 48.8L115.7 46.8L116.8 48.8L117.9 46.8L119 48.8L120.1 46.8L121.2 48.8L122.3 46.8L123.4 48.8L124.5 46.8L125.6 48.8L126.7 46.8L127.8 48.8L128.9 46.8L130 48.8L131.1 46.8L132.2 48.8L133.3 46.8L134.4 48.8L135.5 46.8L136.6 48.8L137.7 46.8L138.8 48.8L139.9 46.8L141 48.8L142.1 46.8L143.2 48.8L144.3 46.8L145.4 48.8L146.5 46.8L147.6 48.8L148.7 46.8L149.8 48.8L150.9 46.8L152 48.8L153.1 46.8L154.2 48.8L155.3 46.8L156.4 48.8L157.5 46.8L158.6 48.8L159.7 46.8L160.8 48.8L161.9 46.8L163 48.8L164.1 46.8L165.2 48.8L166.3 46.8L167.4 48.8L168.5 46.8L169.6 48.8L170.7 46.8L171.8 48.8L172.9 46.8L174 48.8L175.1 46.8L176.2 48.8L177.3 46.8L178.4 48.8L179.5 46.8L180.6 48.8L181.7 46.8L182.8 48.8L183.9 46.8L185 48.8L186.1 46.8L187.2 48.8L188.3 46.8L189.4 48.8L190.5 46.8L191.6 48.8L192.7 46.8L193.8 48.8L194.9 46.8L196 48.8L197.1 46.8L198.2 48.8L199.3 46.8L200.4 48.8L201.5 46.8L202.6 48.8L203.7 46.8L204.8 48.8L205.9 46.8L207 48.8L208.1 46.8L209.2 48.8L210.3 46.8L211.4 48.8L212.5 46.8L213.6 48.8L214.7 46.8L215.8 48.8L216.9 46.8L218 48.8L219.1 46.8L220.2 48.8L221.3 46.8L222.4 48.8L223.5 46.8L224.6 48.8L225.7 46.8L226.8 48.8L227.9 46.8L229 48.8L230.1 46.8L231.2 48.8L232.3 46.8L233.4 48.8L234.5 46.8L235.6 48.8L236.7 46.8L237.8 48.8L238.9 46.8L240 48.8L241.1 46.8L242.2 48.8L243.3 46.8L244.4 48.8L245.5 46.8L246.6 48.8L247.7 46.8L248.8 48.8L249.9 46.8L251 48.8L252.1 46.8L253.2 48.8L254.3 46.8L255.4 48.8L256.5 46.8L257.6 48.8L258.7 46.8L258.7 47.8" fill="none" stroke="#31678e" stroke-width="0.8" stroke-opacity="0.75" stroke-linejoin="round"/>
<path d="M240 48.1H259.2" stroke="#375a8c" stroke-width="1.4" stroke-opacity="0.4"/>
<path d="M38.2 37.8H84.5L86 37.45H259.2V0.8H38.2Z" fill="url(#hbfbA)"/>
<path d="M38.2 38.3H84.5L86 39.4H202L203.5 40.2H259.2V0.8H38.2Z M38.2 52.7H69L70.5 53.5H184L185.5 54.2H259.2V94H38.2Z" fill="url(#hdotA)"/>
<path d="M38.2 37.8H84.5L86 37.45H259.2 M38.2 38.3H84.5L86 39.4H202L203.5 40.2H259.2 M38.2 52.7H69L70.5 53.5H184L185.5 54.2H259.2" fill="none" stroke="#000" stroke-width="0.95"/>
<polygon points="148.5,43.55 149.41,46.35 152.35,46.35 149.97,48.08 150.88,50.88 148.5,49.15 146.12,50.88 147.03,48.08 144.65,46.35 147.59,46.35" fill="#ff0000" stroke="#ff0000" stroke-width="0.75" stroke-linejoin="miter"/>
<rect x="38.2" y="0.8" width="221" height="93.2" fill="none" stroke="#1a1a1a" stroke-width="0.7"/>
<path d="M60.3 94v2.7M103.65 94v2.7M147 94v2.7M190.35 94v2.7M233.7 94v2.7" stroke="#1a1a1a" stroke-width="0.7" fill="none"/>
<path d="M38.2 19.28h-2.7M38.2 55.74h-2.7M38.2 92.2h-2.7" stroke="#1a1a1a" stroke-width="0.7" fill="none"/>
<text x="32.6" y="22.98" font-size="10" text-anchor="end" fill="#262626">0.4</text>
<text x="32.6" y="59.44" font-size="10" text-anchor="end" fill="#262626">0.2</text>
<text x="32.6" y="95.9" font-size="10" text-anchor="end" fill="#262626">0.0</text>
<text transform="translate(8.9 55.1) rotate(-90)" font-size="10" fill="#262626"><tspan x="0" y="0" font-style="italic">&#948;</tspan><tspan x="7.3" y="0.3" font-size="11">&#8242;</tspan><tspan x="7.1" y="3.2" font-size="7">25</tspan></text>
<rect x="273.1" y="0.8" width="4.7" height="93.2" fill="url(#cb)" stroke="#1a1a1a" stroke-width="0.6"/>
<path d="M277.8 7h2.7M277.8 37.9h2.7M277.8 69h2.7" stroke="#1a1a1a" stroke-width="0.7" fill="none"/>
<text x="283" y="10.9" font-size="10" fill="#262626">10<tspan dy="-4" font-size="7">&#8722;45</tspan></text>
<text x="283" y="41.8" font-size="10" fill="#262626">10<tspan dy="-4" font-size="7">&#8722;48</tspan></text>
<text x="283" y="72.9" font-size="10" fill="#262626">10<tspan dy="-4" font-size="7">&#8722;51</tspan></text>
<text transform="translate(322.6 47.4) rotate(-90)" font-size="10" text-anchor="middle" fill="#262626">proton</text>
<rect x="175.3" y="5.8" width="79" height="32.5" rx="1.8" ry="1.8" fill="#ffffff" stroke="#d2d2d2" stroke-width="0.8"/>
<g transform="translate(179.2 10.5)">
<rect width="20" height="6.8" fill="#ffffff"/>
<rect width="20" height="6.8" fill="url(#Lbfb)" stroke="#1a1a1a" stroke-width="0.85"/>
</g>
<text x="207.5" y="17" font-size="10" text-anchor="start" fill="#262626">bfb excl.</text>
<g transform="translate(179.2 25.3)">
<rect width="20" height="6.8" fill="#ffffff"/>
<rect width="20" height="6.8" fill="url(#Ldots)" stroke="#1a1a1a" stroke-width="0.85"/>
</g>
<text x="207.5" y="31.8" font-size="10" text-anchor="start" fill="#262626">LZ excl.</text>
<rect x="38.2" y="112.4" width="221" height="92.9" fill="url(#gP2)"/>
<path d="M38.7 157.8L39.8 159.8L40.9 157.8L42 159.8L43.1 157.8L44.2 159.8L45.3 157.8L46.4 159.8L47.5 157.8L48.6 159.8L49.7 157.8L50.8 159.8L51.9 157.8L53 159.8L54.1 157.8L55.2 159.8L56.3 157.8L57.4 159.8L58.5 157.8L59.6 159.8L60.7 157.8L61.8 159.8L62.9 157.8L64 159.8L65.1 157.8L66.2 159.8L67.3 157.8L68.4 159.8L69.5 157.8L70.6 159.8L71.7 157.8L72.8 159.8L73.9 157.8L75 159.8L76.1 157.8L77.2 159.8L78.3 157.8L79.4 159.8L80.5 157.8L81.6 159.8L82.7 157.8L83.8 159.8L84.9 157.8L86 159.8L87.1 157.8L88.2 159.8L89.3 157.8L90.4 159.8L91.5 157.8L92.6 159.8L93.7 157.8L94.8 159.8L95.9 157.8L97 159.8L98.1 157.8L99.2 159.8L100.3 157.8L101.4 159.8L102.5 157.8L103.6 159.8L104.7 157.8L105.8 159.8L106.9 157.8L108 159.8L109.1 157.8L110.2 159.8L111.3 157.8L112.4 159.8L113.5 157.8L114.6 159.8L115.7 157.8L116.8 159.8L117.9 157.8L119 159.8L120.1 157.8L121.2 159.8L122.3 157.8L123.4 159.8L124.5 157.8L125.6 159.8L126.7 157.8L127.8 159.8L128.9 157.8L130 159.8L131.1 157.8L132.2 159.8L133.3 157.8L134.4 159.8L135.5 157.8L136.6 159.8L137.7 157.8L138.8 159.8L139.9 157.8L141 159.8L142.1 157.8L143.2 159.8L144.3 157.8L145.4 159.8L146.5 157.8L147.6 159.8L148.7 157.8L149.8 159.8L150.9 157.8L152 159.8L153.1 157.8L154.2 159.8L155.3 157.8L156.4 159.8L157.5 157.8L158.6 159.8L159.7 157.8L160.8 159.8L161.9 157.8L163 159.8L164.1 157.8L165.2 159.8L166.3 157.8L167.4 159.8L168.5 157.8L169.6 159.8L170.7 157.8L171.8 159.8L172.9 157.8L174 159.8L175.1 157.8L176.2 159.8L177.3 157.8L178.4 159.8L179.5 157.8L180.6 159.8L181.7 157.8L182.8 159.8L183.9 157.8L185 159.8L186.1 157.8L187.2 159.8L188.3 157.8L189.4 159.8L190.5 157.8L191.6 159.8L192.7 157.8L193.8 159.8L194.9 157.8L196 159.8L197.1 157.8L198.2 159.8L199.3 157.8L200.4 159.8L201.5 157.8L202.6 159.8L203.7 157.8L204.8 159.8L205.9 157.8L207 159.8L208.1 157.8L209.2 159.8L210.3 157.8L211.4 159.8L212.5 157.8L213.6 159.8L214.7 157.8L215.8 159.8L216.9 157.8L218 159.8L219.1 157.8L220.2 159.8L221.3 157.8L222.4 159.8L223.5 157.8L224.6 159.8L225.7 157.8L226.8 159.8L227.9 157.8L229 159.8L230.1 157.8L231.2 159.8L232.3 157.8L233.4 159.8L234.5 157.8L235.6 159.8L236.7 157.8L237.8 159.8L238.9 157.8L240 159.8L241.1 157.8L242.2 159.8L243.3 157.8L244.4 159.8L245.5 157.8L246.6 159.8L247.7 157.8L248.8 159.8L249.9 157.8L251 159.8L252.1 157.8L253.2 159.8L254.3 157.8L255.4 159.8L256.5 157.8L257.6 159.8L258.7 157.8L258.7 158.8" fill="none" stroke="#31678e" stroke-width="0.8" stroke-opacity="0.75" stroke-linejoin="round"/>
<path d="M240 159.1H259.2" stroke="#375a8c" stroke-width="1.4" stroke-opacity="0.4"/>
<path d="M38.2 149.8H84.5L86 149.1H259.2V112.4H38.2Z" fill="url(#hbfbA)"/>
<path d="M38.2 150.3H147L148.5 151H255L256.5 152.4H259.2V112.4H38.2Z M38.2 163.3H43L44.5 164.1H153L154.5 164.9H259.2V205.3H38.2Z" fill="url(#hdotA)"/>
<path d="M38.2 149.8H84.5L86 149.1H259.2 M38.2 150.3H147L148.5 151H255L256.5 152.4H259.2 M38.2 163.3H43L44.5 164.1H153L154.5 164.9H259.2" fill="none" stroke="#000" stroke-width="0.95"/>
<polygon points="148.5,154.65 149.41,157.45 152.35,157.45 149.97,159.18 150.88,161.98 148.5,160.25 146.12,161.98 147.03,159.18 144.65,157.45 147.59,157.45" fill="#ff0000" stroke="#ff0000" stroke-width="0.75" stroke-linejoin="miter"/>
<rect x="38.2" y="112.4" width="221" height="92.9" fill="none" stroke="#1a1a1a" stroke-width="0.7"/>
<path d="M60.3 205.3v2.7M103.65 205.3v2.7M147 205.3v2.7M190.35 205.3v2.7M233.7 205.3v2.7" stroke="#1a1a1a" stroke-width="0.7" fill="none"/>
<text x="60.3" y="218.7" font-size="10" text-anchor="middle" fill="#262626">&#8722;9.9</text>
<text x="103.65" y="218.7" font-size="10" text-anchor="middle" fill="#262626">&#8722;9.8</text>
<text x="147" y="218.7" font-size="10" text-anchor="middle" fill="#262626">&#8722;9.7</text>
<text x="190.35" y="218.7" font-size="10" text-anchor="middle" fill="#262626">&#8722;9.6</text>
<text x="233.7" y="218.7" font-size="10" text-anchor="middle" fill="#262626">&#8722;9.5</text>
<path d="M38.2 131.18h-2.7M38.2 167.64h-2.7M38.2 204.1h-2.7" stroke="#1a1a1a" stroke-width="0.7" fill="none"/>
<text x="32.6" y="134.88" font-size="10" text-anchor="end" fill="#262626">0.4</text>
<text x="32.6" y="171.34" font-size="10" text-anchor="end" fill="#262626">0.2</text>
<text x="32.6" y="207.8" font-size="10" text-anchor="end" fill="#262626">0.0</text>
<text transform="translate(8.9 166.6) rotate(-90)" font-size="10" fill="#262626"><tspan x="0" y="0" font-style="italic">&#948;</tspan><tspan x="7.3" y="0.3" font-size="11">&#8242;</tspan><tspan x="7.1" y="3.2" font-size="7">25</tspan></text>
<rect x="273.1" y="112.4" width="4.7" height="92.9" fill="url(#cb)" stroke="#1a1a1a" stroke-width="0.6"/>
<path d="M277.8 118.8h2.7M277.8 149.7h2.7M277.8 180.8h2.7" stroke="#1a1a1a" stroke-width="0.7" fill="none"/>
<text x="283" y="122.7" font-size="10" fill="#262626">10<tspan dy="-4" font-size="7">&#8722;45</tspan></text>
<text x="283" y="153.6" font-size="10" fill="#262626">10<tspan dy="-4" font-size="7">&#8722;48</tspan></text>
<text x="283" y="184.7" font-size="10" fill="#262626">10<tspan dy="-4" font-size="7">&#8722;51</tspan></text>
<text transform="translate(322.6 158.85) rotate(-90)" font-size="10" text-anchor="middle" fill="#262626">neutron</text>
<text font-size="10" fill="#262626"><tspan x="140.6" y="232.5" font-style="italic">&#948;</tspan><tspan x="147.9" y="232.8" font-size="11">&#8242;</tspan><tspan x="147.7" y="235.1" font-size="7">14</tspan></text>
<text x="271.3" y="218.6" font-size="10" fill="#262626"><tspan font-style="italic">&#963;</tspan><tspan dx="1.5">[</tspan><tspan font-style="italic">cm</tspan><tspan dy="-4" font-size="7">2</tspan><tspan dy="4" dx="1.2">]</tspan></text>
<rect x="400.8" y="0.5" width="221.2" height="60" fill="url(#gR1)"/>
<path d="M401.3 54.6L402.4 56.4L403.5 54.6L404.6 56.4L405.7 54.6L406.8 56.4L407.9 54.6L409 56.4L410.1 54.6L411.2 56.4L412.3 54.6L413.4 56.4L414.5 54.6L415.6 56.4L416.7 54.6L417.8 56.4L418.9 54.6L420 56.4L421.1 54.6L422.2 56.4L423.3 54.6L424.4 56.4L425.5 54.6L426.6 56.4L427.7 54.6L428.8 56.4L429.9 54.6L431 56.4L432.1 54.6L433.2 56.4L434.3 54.6L435.4 56.4L436.5 54.6L437.6 56.4L438.7 54.6L439.8 56.4L440.9 54.6L442 56.4L443.1 54.6L444.2 56.4L445.3 54.6L446.4 56.4L447.5 54.6L448.6 56.4L449.7 54.6L450.8 56.4L451.9 54.6L453 56.4L454.1 54.6L455.2 56.4L456.3 54.6L457.4 56.4L458.5 54.6L459.6 56.4L460.7 54.6L461.8 56.4L462.9 54.6L464 56.4L465.1 54.6L466.2 56.4L467.3 54.6L468.4 56.4L469.5 54.6L470.6 56.4L471.7 54.6L472.8 56.4L473.9 54.6L475 56.4L476.1 54.6L477.2 56.4L478.3 54.6L479.4 56.4L480.5 54.6L481.6 56.4L482.7 54.6L483.8 56.4L484.9 54.6L486 56.4L487.1 54.6L488.2 56.4L489.3 54.6L490.4 56.4L491.5 54.6L492.6 56.4L493.7 54.6L494.8 56.4L495.9 54.6L497 56.4L498.1 54.6L499.2 56.4L500.3 54.6L501.4 56.4L502.5 54.6L503.6 56.4L504.7 54.6L505.8 56.4L506.9 54.6L508 56.4L509.1 54.6L510.2 56.4L511.3 54.6L512.4 56.4L513.5 54.6L514.6 56.4L515.7 54.6L516.8 56.4L517.9 54.6L519 56.4L520.1 54.6L521.2 56.4L522.3 54.6L523.4 56.4L524.5 54.6L525.6 56.4L526.7 54.6L527.8 56.4L528.9 54.6L530 56.4L531.1 54.6L532.2 56.4L533.3 54.6L534.4 56.4L535.5 54.6L536.6 56.4L537.7 54.6L538.8 56.4L539.9 54.6L541 56.4L542.1 54.6L543.2 56.4L544.3 54.6L545.4 56.4L546.5 54.6L547.6 56.4L548.7 54.6L549.8 56.4L550.9 54.6L552 56.4L553.1 54.6L554.2 56.4L555.3 54.6L556.4 56.4L557.5 54.6L558.6 56.4L559.7 54.6L560.8 56.4L561.9 54.6L563 56.4L564.1 54.6L565.2 56.4L566.3 54.6L567.4 56.4L568.5 54.6L569.6 56.4L570.7 54.6L571.8 56.4L572.9 54.6L574 56.4L575.1 54.6L576.2 56.4L577.3 54.6L578.4 56.4L579.5 54.6L580.6 56.4L581.7 54.6L582.8 56.4L583.9 54.6L585 56.4L586.1 54.6L587.2 56.4L588.3 54.6L589.4 56.4L590.5 54.6L591.6 56.4L592.7 54.6L593.8 56.4L594.9 54.6L596 56.4L597.1 54.6L598.2 56.4L599.3 54.6L600.4 56.4L601.5 54.6L602.6 56.4L603.7 54.6L604.8 56.4L605.9 54.6L607 56.4L608.1 54.6L609.2 56.4L610.3 54.6L611.4 56.4L612.5 54.6L613.6 56.4L614.7 54.6L615.8 56.4L616.9 54.6L618 56.4L619.1 54.6L620.2 56.4L621.3 54.6L621.5 55.5" fill="none" stroke="#3e4989" stroke-width="0.8" stroke-opacity="0.8" stroke-linejoin="round"/>
<path d="M400.8 24.9H447L450 24.4H622V0.5H400.8Z" fill="url(#hbfbB)"/>
<path d="M400.8 25.5H447L450 25.8H622V0.5H400.8Z" fill="url(#hdotB)"/>
<path d="M400.8 24.9H447L450 24.4H622 M400.8 25.5H447L450 25.8H622" fill="none" stroke="#000" stroke-width="1.0"/>
<polygon points="510.6,26.95 511.51,29.75 514.45,29.75 512.07,31.48 512.98,34.28 510.6,32.55 508.22,34.28 509.13,31.48 506.75,29.75 509.69,29.75" fill="#ff0000" stroke="#ff0000" stroke-width="0.75" stroke-linejoin="miter"/>
<rect x="400.8" y="0.5" width="221.2" height="60" fill="none" stroke="#1a1a1a" stroke-width="0.7"/>
<path d="M422.3 60.5v2.7M465.68 60.5v2.7M509.06 60.5v2.7M552.44 60.5v2.7M595.82 60.5v2.7" stroke="#1a1a1a" stroke-width="0.7" fill="none"/>
<path d="M400.8 12.5h-2.7M400.8 36.5h-2.7M400.8 60.5h-2.7" stroke="#1a1a1a" stroke-width="0.7" fill="none"/>
<text x="395.2" y="16.2" font-size="10" text-anchor="end" fill="#262626">0.4</text>
<text x="395.2" y="40.2" font-size="10" text-anchor="end" fill="#262626">0.2</text>
<text x="395.2" y="64.2" font-size="10" text-anchor="end" fill="#262626">0.0</text>
<rect x="635.3" y="0.5" width="3.2" height="60" fill="url(#cb)" stroke="#1a1a1a" stroke-width="0.6"/>
<path d="M638.5 15h2.7M638.5 41.7h2.7" stroke="#1a1a1a" stroke-width="0.7" fill="none"/>
<text x="643.9" y="18.9" font-size="10" fill="#262626">10<tspan dy="-4" font-size="7">&#8722;26</tspan></text>
<text x="643.9" y="45.6" font-size="10" fill="#262626">10<tspan dy="-4" font-size="7">&#8722;29</tspan></text>
<text transform="translate(682.6 31.3) rotate(-90)" font-size="10" text-anchor="middle" fill="#262626"><tspan font-style="italic">A</tspan><tspan dy="2.4" font-size="7" font-style="italic">S</tspan><tspan dy="-2.4" font-style="italic">A</tspan><tspan dy="2.4" font-size="7" font-style="italic">S</tspan><tspan dy="-2.4">&#8594;</tspan><tspan font-style="italic">h</tspan><tspan dy="2" font-size="7">2</tspan><tspan dy="-2" font-style="italic">h</tspan><tspan dy="2" font-size="7">2</tspan></text>
<rect x="400.8" y="73" width="221.2" height="60" fill="url(#gR2)"/>
<path d="M401.3 124.8L402.4 126.6L403.5 124.8L404.6 126.6L405.7 124.8L406.8 126.6L407.9 124.8L409 126.6L410.1 124.8L411.2 126.6L412.3 124.8L413.4 126.6L414.5 124.8L415.6 126.6L416.7 124.8L417.8 126.6L418.9 124.8L420 126.6L421.1 124.8L422.2 126.6L423.3 124.8L424.4 126.6L425.5 124.8L426.6 126.6L427.7 124.8L428.8 126.6L429.9 124.8L431 126.6L432.1 124.8L433.2 126.6L434.3 124.8L435.4 126.6L436.5 124.8L437.6 126.6L438.7 124.8L439.8 126.6L440.9 124.8L442 126.6L443.1 124.8L444.2 126.6L445.3 124.8L446.4 126.6L447.5 124.8L448.6 126.6L449.7 124.8L450.8 126.6L451.9 124.8L453 126.6L454.1 124.8L455.2 126.6L456.3 124.8L457.4 126.6L458.5 124.8L459.6 126.6L460.7 124.8L461.8 126.6L462.9 124.8L464 126.6L465.1 124.8L466.2 126.6L467.3 124.8L468.4 126.6L469.5 124.8L470.6 126.6L471.7 124.8L472.8 126.6L473.9 124.8L475 126.6L476.1 124.8L477.2 126.6L478.3 124.8L479.4 126.6L480.5 124.8L481.6 126.6L482.7 124.8L483.8 126.6L484.9 124.8L486 126.6L487.1 124.8L488.2 126.6L489.3 124.8L490.4 126.6L491.5 124.8L492.6 126.6L493.7 124.8L494.8 126.6L495.9 124.8L497 126.6L498.1 124.8L499.2 126.6L500.3 124.8L501.4 126.6L502.5 124.8L503.6 126.6L504.7 124.8L505.8 126.6L506.9 124.8L508 126.6L509.1 124.8L510.2 126.6L511.3 124.8L512.4 126.6L513.5 124.8L514.6 126.6L515.7 124.8L516.8 126.6L517.9 124.8L519 126.6L520.1 124.8L521.2 126.6L522.3 124.8L523.4 126.6L524.5 124.8L525.6 126.6L526.7 124.8L527.8 126.6L528.9 124.8L530 126.6L531.1 124.8L532.2 126.6L533.3 124.8L534.4 126.6L535.5 124.8L536.6 126.6L537.7 124.8L538.8 126.6L539.9 124.8L541 126.6L542.1 124.8L543.2 126.6L544.3 124.8L545.4 126.6L546.5 124.8L547.6 126.6L548.7 124.8L549.8 126.6L550.9 124.8L552 126.6L553.1 124.8L554.2 126.6L555.3 124.8L556.4 126.6L557.5 124.8L558.6 126.6L559.7 124.8L560.8 126.6L561.9 124.8L563 126.6L564.1 124.8L565.2 126.6L566.3 124.8L567.4 126.6L568.5 124.8L569.6 126.6L570.7 124.8L571.8 126.6L572.9 124.8L574 126.6L575.1 124.8L576.2 126.6L577.3 124.8L578.4 126.6L579.5 124.8L580.6 126.6L581.7 124.8L582.8 126.6L583.9 124.8L585 126.6L586.1 124.8L587.2 126.6L588.3 124.8L589.4 126.6L590.5 124.8L591.6 126.6L592.7 124.8L593.8 126.6L594.9 124.8L596 126.6L597.1 124.8L598.2 126.6L599.3 124.8L600.4 126.6L601.5 124.8L602.6 126.6L603.7 124.8L604.8 126.6L605.9 124.8L607 126.6L608.1 124.8L609.2 126.6L610.3 124.8L611.4 126.6L612.5 124.8L613.6 126.6L614.7 124.8L615.8 126.6L616.9 124.8L618 126.6L619.1 124.8L620.2 126.6L621.3 124.8L621.5 125.7" fill="none" stroke="#3e4989" stroke-width="0.8" stroke-opacity="0.8" stroke-linejoin="round"/>
<path d="M400.8 97.5H447L450 97H622V73H400.8Z" fill="url(#hbfbB)"/>
<path d="M400.8 100.3H569L572 100.9H622V73H400.8Z" fill="url(#hdotB)"/>
<path d="M400.8 97.5H447L450 97H622 M400.8 100.3H569L572 100.9H622" fill="none" stroke="#000" stroke-width="1.0"/>
<polygon points="510.6,99.15 511.51,101.95 514.45,101.95 512.07,103.68 512.98,106.48 510.6,104.75 508.22,106.48 509.13,103.68 506.75,101.95 509.69,101.95" fill="#ff0000" stroke="#ff0000" stroke-width="0.75" stroke-linejoin="miter"/>
<rect x="400.8" y="73" width="221.2" height="60" fill="none" stroke="#1a1a1a" stroke-width="0.7"/>
<path d="M422.3 133v2.7M465.68 133v2.7M509.06 133v2.7M552.44 133v2.7M595.82 133v2.7" stroke="#1a1a1a" stroke-width="0.7" fill="none"/>
<path d="M400.8 85h-2.7M400.8 109h-2.7M400.8 133h-2.7" stroke="#1a1a1a" stroke-width="0.7" fill="none"/>
<text x="395.2" y="88.7" font-size="10" text-anchor="end" fill="#262626">0.4</text>
<text x="395.2" y="112.7" font-size="10" text-anchor="end" fill="#262626">0.2</text>
<text x="395.2" y="136.7" font-size="10" text-anchor="end" fill="#262626">0.0</text>
<rect x="635.3" y="73" width="3.2" height="60" fill="url(#cb)" stroke="#1a1a1a" stroke-width="0.6"/>
<path d="M638.5 87.5h2.7M638.5 114.2h2.7" stroke="#1a1a1a" stroke-width="0.7" fill="none"/>
<text x="643.9" y="91.4" font-size="10" fill="#262626">10<tspan dy="-4" font-size="7">&#8722;26</tspan></text>
<text x="643.9" y="118.1" font-size="10" fill="#262626">10<tspan dy="-4" font-size="7">&#8722;29</tspan></text>
<text transform="translate(682.6 103.8) rotate(-90)" font-size="10" text-anchor="middle" fill="#262626"><tspan font-style="italic">A</tspan><tspan dy="2.4" font-size="7" font-style="italic">S</tspan><tspan dy="-2.4" font-style="italic">A</tspan><tspan dy="2.4" font-size="7" font-style="italic">S</tspan><tspan dy="-2.4">&#8594;</tspan><tspan font-style="italic">WW</tspan></text>
<rect x="400.8" y="145.2" width="221.2" height="59.8" fill="url(#gR3)"/>
<path d="M400.8 169.6H447L450 169.1H622V145.2H400.8Z" fill="url(#hbfbB)"/>
<path d="M400.8 169.6H447L450 169.1H622" fill="none" stroke="#000" stroke-width="1.0"/>
<polygon points="510.6,171.35 511.51,174.15 514.45,174.15 512.07,175.88 512.98,178.68 510.6,176.95 508.22,178.68 509.13,175.88 506.75,174.15 509.69,174.15" fill="#ff0000" stroke="#ff0000" stroke-width="0.75" stroke-linejoin="miter"/>
<rect x="400.8" y="145.2" width="221.2" height="59.8" fill="none" stroke="#1a1a1a" stroke-width="0.7"/>
<path d="M422.3 205v2.7M465.68 205v2.7M509.06 205v2.7M552.44 205v2.7M595.82 205v2.7" stroke="#1a1a1a" stroke-width="0.7" fill="none"/>
<text x="422.3" y="218.4" font-size="10" text-anchor="middle" fill="#262626">&#8722;9.9</text>
<text x="465.68" y="218.4" font-size="10" text-anchor="middle" fill="#262626">&#8722;9.8</text>
<text x="509.06" y="218.4" font-size="10" text-anchor="middle" fill="#262626">&#8722;9.7</text>
<text x="552.44" y="218.4" font-size="10" text-anchor="middle" fill="#262626">&#8722;9.6</text>
<text x="595.82" y="218.4" font-size="10" text-anchor="middle" fill="#262626">&#8722;9.5</text>
<path d="M400.8 157.16h-2.7M400.8 181.08h-2.7M400.8 205h-2.7" stroke="#1a1a1a" stroke-width="0.7" fill="none"/>
<text x="395.2" y="160.86" font-size="10" text-anchor="end" fill="#262626">0.4</text>
<text x="395.2" y="184.78" font-size="10" text-anchor="end" fill="#262626">0.2</text>
<text x="395.2" y="208.7" font-size="10" text-anchor="end" fill="#262626">0.0</text>
<rect x="635.3" y="145.2" width="3.2" height="59.8" fill="url(#cb)" stroke="#1a1a1a" stroke-width="0.6"/>
<path d="M638.5 159.7h2.7M638.5 186.4h2.7" stroke="#1a1a1a" stroke-width="0.7" fill="none"/>
<text x="643.9" y="163.6" font-size="10" fill="#262626">10<tspan dy="-4" font-size="7">&#8722;26</tspan></text>
<text x="643.9" y="190.3" font-size="10" fill="#262626">10<tspan dy="-4" font-size="7">&#8722;29</tspan></text>
<text transform="translate(682.6 175.9) rotate(-90)" font-size="10" text-anchor="middle" fill="#262626"><tspan font-style="italic">A</tspan><tspan dy="2.4" font-size="7" font-style="italic">S</tspan><tspan dy="-2.4" font-style="italic">A</tspan><tspan dy="2.4" font-size="7" font-style="italic">S</tspan><tspan dy="-2.4">&#8594;</tspan><tspan font-style="italic">bb</tspan></text>
<text transform="translate(371.4 110.6) rotate(-90)" font-size="10" fill="#262626"><tspan x="0" y="0" font-style="italic">&#948;</tspan><tspan x="7.3" y="0.3" font-size="11">&#8242;</tspan><tspan x="7.1" y="3.2" font-size="7">25</tspan></text>
<text font-size="10" fill="#262626"><tspan x="503.3" y="232.5" font-style="italic">&#948;</tspan><tspan x="510.6" y="232.8" font-size="11">&#8242;</tspan><tspan x="510.4" y="235.1" font-size="7">14</tspan></text>
<text x="633.7" y="218.6" font-size="10" fill="#262626"><tspan font-style="italic">&#963;v</tspan><tspan dx="2">[</tspan><tspan font-style="italic">cm</tspan><tspan dy="-4" font-size="7">3</tspan><tspan dy="4" font-style="italic">/s</tspan><tspan dx="1">]</tspan></text>
<rect x="525.8" y="5.8" width="90.8" height="32.5" rx="1.8" ry="1.8" fill="#ffffff" stroke="#d2d2d2" stroke-width="0.8"/>
<g transform="translate(529.5 10.5)">
<rect width="20.1" height="6.8" fill="#ffffff"/>
<rect width="20.1" height="6.8" fill="url(#Lbfb)" stroke="#1a1a1a" stroke-width="0.85"/>
</g>
<text x="557.9" y="17" font-size="10" text-anchor="start" fill="#262626">bfb excl.</text>
<g transform="translate(529.5 25.5)">
<rect width="20.1" height="6.8" fill="#ffffff"/>
<rect width="20.1" height="6.8" fill="url(#Ldots)" stroke="#1a1a1a" stroke-width="0.85"/>
</g>
<text x="557.9" y="32" font-size="10" text-anchor="start" fill="#262626">Fermi excl.</text>
<rect x="38.2" y="269.3" width="221" height="204.1" fill="url(#gBL)"/>
<path d="M38.2 351.2H92.3L95 349.5H259.2V269.3H38.2Z" fill="url(#hbfbC)"/>
<path d="M38.2 351.2H92.3L95 349.5H259.2" fill="none" stroke="#000" stroke-width="1.5"/>
<polygon points="148.5,366.95 149.41,369.75 152.35,369.75 149.97,371.48 150.88,374.28 148.5,372.55 146.12,374.28 147.03,371.48 144.65,369.75 147.59,369.75" fill="#ff0000" stroke="#ff0000" stroke-width="0.75" stroke-linejoin="miter"/>
<rect x="38.2" y="269.3" width="221" height="204.1" fill="none" stroke="#1a1a1a" stroke-width="0.7"/>
<path d="M60.3 473.4v2.7M103.65 473.4v2.7M147 473.4v2.7M190.35 473.4v2.7M233.7 473.4v2.7" stroke="#1a1a1a" stroke-width="0.7" fill="none"/>
<text x="60.3" y="486.9" font-size="10" text-anchor="middle" fill="#262626">&#8722;9.9</text>
<text x="103.65" y="486.9" font-size="10" text-anchor="middle" fill="#262626">&#8722;9.8</text>
<text x="147" y="486.9" font-size="10" text-anchor="middle" fill="#262626">&#8722;9.7</text>
<text x="190.35" y="486.9" font-size="10" text-anchor="middle" fill="#262626">&#8722;9.6</text>
<text x="233.7" y="486.9" font-size="10" text-anchor="middle" fill="#262626">&#8722;9.5</text>
<path d="M38.2 269.3h-2.7M38.2 309.6h-2.7M38.2 349.9h-2.7M38.2 390.2h-2.7M38.2 430.5h-2.7M38.2 470.8h-2.7" stroke="#1a1a1a" stroke-width="0.7" fill="none"/>
<text x="32.6" y="273" font-size="10" text-anchor="end" fill="#262626">0.5</text>
<text x="32.6" y="313.3" font-size="10" text-anchor="end" fill="#262626">0.4</text>
<text x="32.6" y="353.6" font-size="10" text-anchor="end" fill="#262626">0.3</text>
<text x="32.6" y="393.9" font-size="10" text-anchor="end" fill="#262626">0.2</text>
<text x="32.6" y="434.2" font-size="10" text-anchor="end" fill="#262626">0.1</text>
<text x="32.6" y="474.5" font-size="10" text-anchor="end" fill="#262626">0.0</text>
<text transform="translate(8.9 379) rotate(-90)" font-size="10" fill="#262626"><tspan x="0" y="0" font-style="italic">&#948;</tspan><tspan x="7.3" y="0.3" font-size="11">&#8242;</tspan><tspan x="7.1" y="3.2" font-size="7">25</tspan></text>
<text font-size="10" fill="#262626"><tspan x="140.6" y="500.7" font-style="italic">&#948;</tspan><tspan x="147.9" y="501" font-size="11">&#8242;</tspan><tspan x="147.7" y="503.3" font-size="7">14</tspan></text>
<rect x="273.1" y="269.3" width="10.5" height="204.1" fill="url(#cb)" stroke="#1a1a1a" stroke-width="0.6"/>
<path d="M283.6 356.2h2.7M283.6 299.9h1.6M283.6 364.8h1.6M283.6 374.3h1.6M283.6 385.2h1.6M283.6 397.7h1.6M283.6 412.5h1.6M283.6 430.6h1.6M283.6 454h1.6" stroke="#1a1a1a" stroke-width="0.7" fill="none"/>
<text x="288.8" y="360.1" font-size="10" fill="#262626">10<tspan dy="-4" font-size="7">&#8722;2</tspan></text>
<text transform="translate(322.7 371.6) rotate(-90)" font-size="10" text-anchor="middle" fill="#262626">&#937;<tspan font-style="italic">h</tspan><tspan dy="-4" font-size="7">2</tspan></text>
<rect x="175.3" y="273.8" width="79.5" height="17.8" rx="1.8" ry="1.8" fill="#ffffff" stroke="#d2d2d2" stroke-width="0.8"/>
<g transform="translate(179.2 279.3)">
<rect width="20" height="6.8" fill="#ffffff"/>
<rect width="20" height="6.8" fill="url(#Lbfb)" stroke="#1a1a1a" stroke-width="0.85"/>
</g>
<text x="207.5" y="285.8" font-size="10" text-anchor="start" fill="#262626">bfb excl.</text>
<rect x="400.7" y="269.3" width="275.8" height="204.1" fill="#fff"/>
<path d="M400.7 383H407L408.5 384.6H545L546.5 386.4H676.5V473.4H400.7Z M400.7 351.9H457.5L460.5 353.3H603L606 355.2H676.5V269.3H400.7Z" fill="url(#hlz)"/>
<path d="M400.7 383H407L408.5 384.6H545L546.5 386.4H676.5 M400.7 472.5H676.5" fill="none" stroke="#ffd700" stroke-width="1.3"/>
<path d="M400.7 351.9H457.5L460.5 353.3H603L606 355.2H676.5" fill="none" stroke="#ffd700" stroke-width="1.5"/>
<path d="M607 357.1H676.5" fill="none" stroke="#ffd700" stroke-width="0.9"/>
<path d="M400.7 361.7H610.5L614.3 363.9H676.5V269.3H400.7Z" fill="url(#hfermi)"/>
<path d="M400.7 361.7H610.5L614.3 363.9H676.2V269.3" fill="none" stroke="#00ced1" stroke-width="1.2"/>
<path d="M400.7 351.2H459L471 349.9H676.5V269.3H400.7Z" fill="url(#hbfbD)"/>
<path d="M400.7 351.2H459" fill="none" stroke="#000" stroke-width="0.6" stroke-opacity="0.75"/>
<path d="M459 351.2L471 349.9H676.5" fill="none" stroke="#000" stroke-width="1.0"/>
<path d="M400.7 362.4H610.5L614.3 364.6H676.5V385.7H548l-1.5 -1.8H410l-1.5 -1.5H400.7Z" fill="#008000"/>
<polygon points="538.6,366.95 539.51,369.75 542.45,369.75 540.07,371.48 540.98,374.28 538.6,372.55 536.22,374.28 537.13,371.48 534.75,369.75 537.69,369.75" fill="#ff0000" stroke="#ff0000" stroke-width="0.75" stroke-linejoin="miter"/>
<path d="M400.7 473.4V269.3H676.5" fill="none" stroke="#8c8c8c" stroke-width="0.8"/>
<path d="M400.7 473.4H676.5V269.3" fill="none" stroke="#1a1a1a" stroke-width="0.8"/>
<path d="M426.8 473.4v2.7M481.2 473.4v2.7M535.6 473.4v2.7M590 473.4v2.7M644.4 473.4v2.7" stroke="#1a1a1a" stroke-width="0.7" fill="none"/>
<text x="426.8" y="486.9" font-size="10" text-anchor="middle" fill="#262626">&#8722;9.9</text>
<text x="481.2" y="486.9" font-size="10" text-anchor="middle" fill="#262626">&#8722;9.8</text>
<text x="535.6" y="486.9" font-size="10" text-anchor="middle" fill="#262626">&#8722;9.7</text>
<text x="590" y="486.9" font-size="10" text-anchor="middle" fill="#262626">&#8722;9.6</text>
<text x="644.4" y="486.9" font-size="10" text-anchor="middle" fill="#262626">&#8722;9.5</text>
<path d="M400.7 269.3h-2.7M400.7 309.6h-2.7M400.7 349.9h-2.7M400.7 390.2h-2.7M400.7 430.5h-2.7M400.7 470.8h-2.7" stroke="#1a1a1a" stroke-width="0.7" fill="none"/>
<text x="395.1" y="273" font-size="10" text-anchor="end" fill="#262626">0.5</text>
<text x="395.1" y="313.3" font-size="10" text-anchor="end" fill="#262626">0.4</text>
<text x="395.1" y="353.6" font-size="10" text-anchor="end" fill="#262626">0.3</text>
<text x="395.1" y="393.9" font-size="10" text-anchor="end" fill="#262626">0.2</text>
<text x="395.1" y="434.2" font-size="10" text-anchor="end" fill="#262626">0.1</text>
<text x="395.1" y="474.5" font-size="10" text-anchor="end" fill="#262626">0.0</text>
<text transform="translate(371.4 379) rotate(-90)" font-size="10" fill="#262626"><tspan x="0" y="0" font-style="italic">&#948;</tspan><tspan x="7.3" y="0.3" font-size="11">&#8242;</tspan><tspan x="7.1" y="3.2" font-size="7">25</tspan></text>
<text font-size="10" fill="#262626"><tspan x="531" y="500.7" font-style="italic">&#948;</tspan><tspan x="538.3" y="501" font-size="11">&#8242;</tspan><tspan x="538.1" y="503.3" font-size="7">14</tspan></text>
<rect x="506.6" y="273.9" width="165" height="62.1" rx="1.8" ry="1.8" fill="#ffffff" stroke="#d2d2d2" stroke-width="0.8"/>
<g transform="translate(510.7 278.6)">
<rect width="20.2" height="6.8" fill="#008000" stroke="#008000" stroke-width="0.8"/>
</g>
<text x="539.1" y="285.1" font-size="10" text-anchor="start" fill="#262626">allowed by all constraints</text>
<g transform="translate(510.7 293.6)">
<rect width="20.2" height="6.8" fill="#ffffff"/>
<rect width="20.2" height="6.8" fill="url(#Lbfb)" stroke="#1a1a1a" stroke-width="0.85"/>
</g>
<text x="539.1" y="300.1" font-size="10" text-anchor="start" fill="#262626">bfb excl.</text>
<g transform="translate(510.7 308.5)">
<rect width="20.2" height="6.8" fill="#ffffff"/>
<rect width="20.2" height="6.8" fill="url(#Llz)" stroke="#ffd700" stroke-width="0.85"/>
</g>
<text x="539.1" y="315" font-size="10" text-anchor="start" fill="#262626">LZ excl.</text>
<g transform="translate(510.7 323.6)">
<rect width="20.2" height="6.8" fill="#ffffff"/>
<rect width="20.2" height="6.8" fill="url(#Lfermi)" stroke="#00ced1" stroke-width="0.85"/>
</g>
<text x="539.1" y="330.1" font-size="10" text-anchor="start" fill="#262626">Fermi excl.</text>
</svg>
</body>
</html>
